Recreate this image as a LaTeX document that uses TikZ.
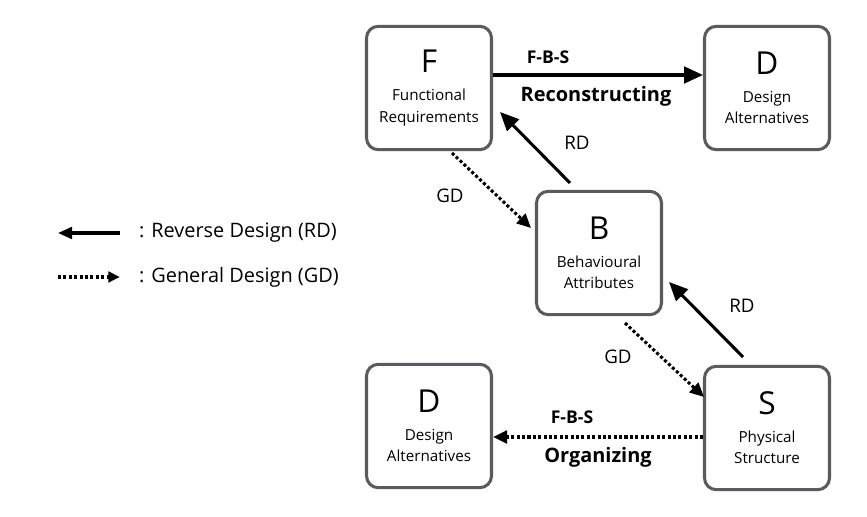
\documentclass[tikz,border=0pt]{standalone}
\usepackage{fontspec}
\setmainfont{Open Sans}
\usetikzlibrary{arrows.meta,positioning}
\definecolor{boxgray}{RGB}{90, 90, 95}

\begin{document}
\begin{tikzpicture}[x=0.03cm, y=-0.03cm]
    \tikzstyle{block} = [rectangle, rounded corners=10pt, draw=boxgray, line width=2.6pt, fill=white,
                         minimum width=3.75cm, minimum height=3.7cm, align=center, font=\fontsize{13}{18}\selectfont]
    \tikzstyle{solidarrow} = [-{Triangle[length=16pt, width=14pt]}, line width=2.6pt]
    \tikzstyle{dotarrow} = [-{Triangle[length=12pt, width=11pt]}, line width=2.6pt, dotted]
    \tikzstyle{lbl} = [font=\fontsize{16}{19}\selectfont]

    \useasboundingbox (0,0) rectangle (867,517);

    % Blocks
    \node[block] (f) at (429,88) {{\fontsize{27}{30}\selectfont F}\\[6pt]Functional\\Requirements};
    \node[block] (d1) at (767,88) {{\fontsize{27}{30}\selectfont D}\\[6pt]Design\\Alternatives};
    \node[block] (b) at (599,253) {{\fontsize{27}{30}\selectfont B}\\[6pt]Behavioural\\Attributes};
    \node[block] (s) at (767,428) {{\fontsize{27}{30}\selectfont S}\\[6pt]Physical\\Structure};
    \node[block] (d2) at (429,426) {{\fontsize{27}{30}\selectfont D}\\[6pt]Design\\Alternatives};

    % Connections
    \draw[solidarrow] (f.east |- 0,75) -- (d1.west |- 0,75);
    \draw[solidarrow] (570,183) -- (500,112);
    \draw[dotarrow] (452,153) -- (531,228);
    \draw[solidarrow] (743,357) -- (669,282);
    \draw[dotarrow] (625,323) -- (704,397);
    \draw[dotarrow] (s.west |- 0,437) -- (d2.east |- 0,437);

    % Labels
    \node[lbl, font=\bfseries\fontsize{15}{18}\selectfont] (fbs1) at (548,57) {F-B-S};
    \node[lbl, font=\bfseries\fontsize{17}{20}\selectfont] (rec) at (596,96) {Reconstructing};
    \node[lbl] (rd1) at (577,143) {RD};
    \node[lbl] (gd1) at (450,196) {GD};
    \node[lbl] (rd2) at (742,306) {RD};
    \node[lbl] (gd2) at (618,357) {GD};
    \node[lbl, font=\bfseries\fontsize{15}{18}\selectfont] (fbs2) at (572,417) {F-B-S};
    \node[lbl, font=\bfseries\fontsize{17}{20}\selectfont] (org) at (598,457) {Organizing};

    % Legend
    \coordinate (l1a) at (120,233);
    \coordinate (l1b) at (58,233);
    \coordinate (l2a) at (58,277);
    \coordinate (l2b) at (120,277);
    \draw[-{Triangle[length=12pt, width=10pt]}, line width=2.6pt] (l1a) -- (l1b);
    \draw[-{Triangle[length=10pt, width=9pt]}, line width=2.6pt, dotted] (l2a) -- (l2b);
    \node[lbl, anchor=west, font=\fontsize{17}{20}\selectfont] (leg1) at (135,233) {: Reverse Design (RD)};
    \node[lbl, anchor=west, font=\fontsize{17}{20}\selectfont] (leg2) at (135,277) {: General Design (GD)};
\end{tikzpicture}
\end{document}
